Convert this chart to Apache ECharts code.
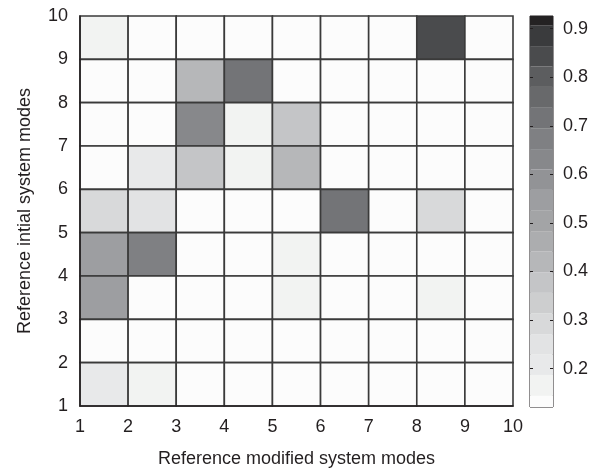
<!DOCTYPE html>
<html>
<head>
<meta charset="utf-8">
<script src="https://cdn.jsdelivr.net/npm/echarts@6/dist/echarts.min.js"></script>
<style>
  html, body { margin: 0; padding: 0; background: #fff; }
  #main { width: 595px; height: 473px; }
</style>
</head>
<body>
<div id="main"></div>
<script>
// modes along each axis (cell lower-left corners)
const modesX = [1, 2, 3, 4, 5, 6, 7, 8, 9];
const modesY = [1, 2, 3, 4, 5, 6, 7, 8, 9];

// cell values, rows listed from top (y = 9) down to bottom (y = 1)
const cellRows = [
  [0.16, 0.13, 0.13, 0.13, 0.13, 0.13, 0.13, 0.84, 0.13],
  [0.13, 0.13, 0.42, 0.71, 0.13, 0.13, 0.13, 0.13, 0.13],
  [0.13, 0.13, 0.63, 0.16, 0.37, 0.13, 0.13, 0.13, 0.13],
  [0.13, 0.21, 0.37, 0.16, 0.42, 0.13, 0.13, 0.13, 0.13],
  [0.29, 0.25, 0.13, 0.13, 0.13, 0.71, 0.13, 0.29, 0.13],
  [0.55, 0.67, 0.13, 0.13, 0.16, 0.13, 0.13, 0.13, 0.13],
  [0.55, 0.13, 0.13, 0.13, 0.16, 0.13, 0.13, 0.16, 0.13],
  [0.13, 0.13, 0.13, 0.13, 0.13, 0.13, 0.13, 0.13, 0.13],
  [0.21, 0.16, 0.13, 0.13, 0.13, 0.13, 0.13, 0.13, 0.13]
];

// colour bar: band boundaries and band colours (light to dark)
const cbBounds = [0.121, 0.144, 0.187, 0.229, 0.271, 0.314, 0.356, 0.398, 0.441, 0.483,
  0.525, 0.568, 0.610, 0.652, 0.695, 0.737, 0.780, 0.822, 0.864, 0.907, 0.926];
const cbColors = ['#fcfcfc', '#f2f3f2', '#e8e9ea', '#e2e3e4', '#d8d9da', '#cdcecf', '#c4c5c7',
  '#b6b7b9', '#acadaf', '#a3a4a6', '#9d9ea1', '#929396', '#87888b', '#7f8083', '#737477',
  '#68696b', '#5c5d5f', '#4a4b4d', '#3a3b3d', '#242223'];
const cbTicks = [0.2, 0.3, 0.4, 0.5, 0.6, 0.7, 0.8, 0.9];

const textColor = '#231f20';
const font = 'Liberation Sans, Arial, Helvetica, sans-serif';

const cells = [];
cellRows.forEach((row, r) => {
  const y = modesY[modesY.length - 1 - r];
  row.forEach((v, c) => cells.push([modesX[c], y, v]));
});

const bands = [];
for (let k = 0; k < cbColors.length; k++) {
  bands.push([0, cbBounds[k], (cbBounds[k] + cbBounds[k + 1]) / 2, cbBounds[k + 1]]);
}

const pieces = cbColors.map((color, k) => ({
  gte: cbBounds[k],
  lt: k === cbColors.length - 1 ? cbBounds[k + 1] + 0.01 : cbBounds[k + 1],
  color: color
}));

function renderCell(params, api) {
  const x = api.value(0), y = api.value(1);
  const p0 = api.coord([x, y + 1]);
  const p1 = api.coord([x + 1, y]);
  return {
    type: 'rect',
    shape: { x: p0[0], y: p0[1], width: p1[0] - p0[0], height: p1[1] - p0[1] },
    style: { fill: api.visual('color'), stroke: '#3a3a3a', lineWidth: 1.6 }
  };
}

function renderBand(params, api) {
  const p0 = api.coord([0, api.value(3)]);
  const p1 = api.coord([1, api.value(1)]);
  return {
    type: 'rect',
    shape: { x: p0[0], y: p0[1], width: p1[0] - p0[0], height: p1[1] - p0[1] },
    style: { fill: api.visual('color') }
  };
}

const chart = echarts.init(document.getElementById('main'), null, { renderer: 'canvas' });
chart.setOption({
  animation: false,
  textStyle: { fontFamily: font, color: textColor },
  grid: [
    { left: 80, top: 16, width: 433, height: 391 },
    { left: 530, top: 16, width: 23, height: 391, show: true, borderColor: '#231f20', borderWidth: 1 }
  ],
  visualMap: {
    type: 'piecewise',
    show: false,
    dimension: 2,
    pieces: pieces
  },
  xAxis: [
    {
      type: 'value', gridIndex: 0, min: 1, max: 10, interval: 1,
      name: 'Reference modified system modes', nameLocation: 'middle', nameGap: 44,
      nameTextStyle: { fontSize: 18, color: textColor, fontFamily: font },
      axisLine: { show: true, lineStyle: { color: '#231f20', width: 1.5 } },
      axisTick: { show: false },
      splitLine: { show: false },
      axisLabel: { fontSize: 18, color: textColor, margin: 12, fontFamily: font, showMinLabel: true, showMaxLabel: true },
      z: 5
    },
    {
      type: 'value', gridIndex: 1, min: 0, max: 1,
      show: false
    }
  ],
  yAxis: [
    {
      type: 'value', gridIndex: 0, min: 1, max: 10, interval: 1,
      name: 'Reference intial system modes', nameLocation: 'middle', nameGap: 46, nameRotate: 90,
      nameTextStyle: { fontSize: 18, color: textColor, fontFamily: font },
      axisLine: { show: true, lineStyle: { color: '#231f20', width: 1.5 } },
      axisTick: { show: false },
      splitLine: { show: false },
      axisLabel: { fontSize: 18, color: textColor, margin: 12, fontFamily: font, showMinLabel: true, showMaxLabel: true },
      z: 5
    },
    {
      type: 'value', gridIndex: 1, min: cbBounds[0], max: cbBounds[cbBounds.length - 1],
      position: 'left',
      axisLine: { show: false },
      axisTick: { show: true, inside: true, length: 3, customValues: cbTicks, lineStyle: { color: '#231f20' } },
      axisLabel: { show: false, customValues: cbTicks },
      splitLine: { show: false },
      z: 5
    },
    {
      type: 'value', gridIndex: 1, min: cbBounds[0], max: cbBounds[cbBounds.length - 1],
      position: 'right',
      axisLine: { show: false },
      axisTick: { show: true, inside: true, length: 3, customValues: cbTicks, lineStyle: { color: '#231f20' } },
      axisLabel: {
        fontSize: 18, color: textColor, margin: 10, fontFamily: font,
        customValues: cbTicks, formatter: (v) => v.toFixed(1)
      },
      splitLine: { show: false },
      z: 5
    }
  ],
  series: [
    {
      type: 'custom',
      xAxisIndex: 0, yAxisIndex: 0,
      renderItem: renderCell,
      encode: { x: 0, y: 1 },
      data: cells
    },
    {
      type: 'custom',
      xAxisIndex: 1, yAxisIndex: 1,
      renderItem: renderBand,
      encode: { x: 0, y: [1, 3] },
      data: bands
    }
  ]
});
</script>
</body>
</html>
